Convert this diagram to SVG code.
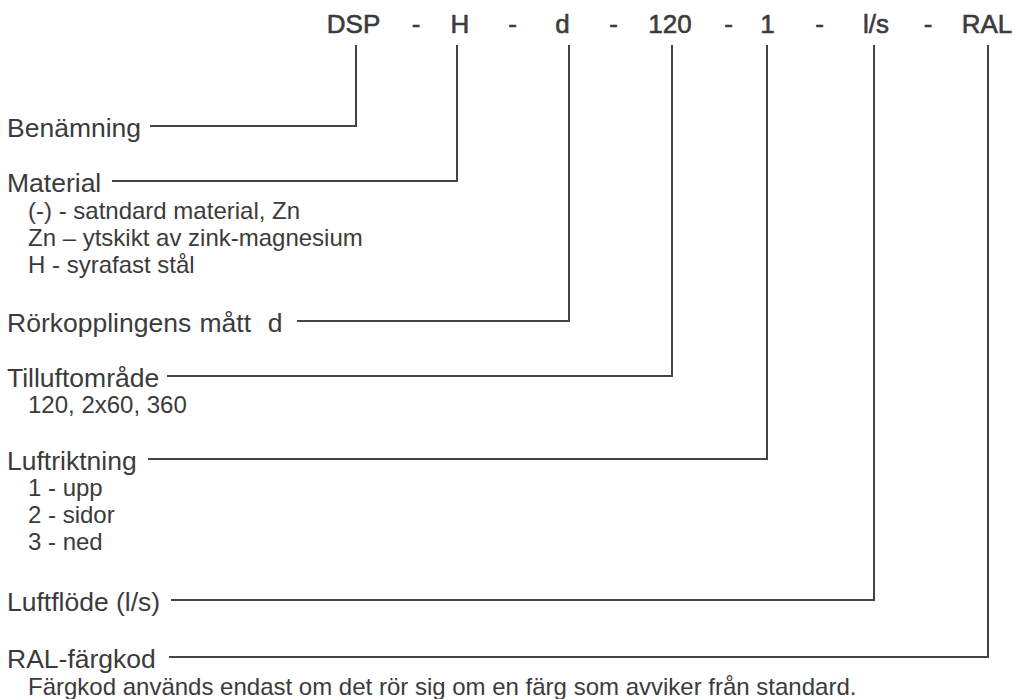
<svg xmlns="http://www.w3.org/2000/svg" width="1015" height="699" viewBox="0 0 1015 699">
  <style>
    text { font-family: "Liberation Sans", Arial, sans-serif; fill: #3b3b3b; }
    .code { font-size: 26px; text-anchor: middle; stroke: #3b3b3b; stroke-width: 0.6px; }
    .label { font-size: 26.5px; }
    .sub { font-size: 24px; }
    .lead { fill: none; stroke: #444; stroke-width: 2; stroke-linejoin: miter; stroke-linecap: butt; }
  </style>
  <rect width="1015" height="699" fill="#fff"/>

  <!-- type code header -->
  <g id="code">
    <text class="code" x="353.5" y="33">DSP</text>
    <text class="code" x="416" y="33">-</text>
    <text class="code" x="460" y="33">H</text>
    <text class="code" x="512.5" y="33">-</text>
    <text class="code" x="562.5" y="33">d</text>
    <text class="code" x="613.5" y="33">-</text>
    <text class="code" x="670" y="33">120</text>
    <text class="code" x="728.5" y="33">-</text>
    <text class="code" x="767.5" y="33">1</text>
    <text class="code" x="819.5" y="33">-</text>
    <text class="code" x="876" y="33">l/s</text>
    <text class="code" x="928" y="33">-</text>
    <text class="code" x="987" y="33">RAL</text>
  </g>

  <!-- leader lines from each label up to its code segment -->
  <g id="connectors">
    <path class="lead" d="M150 126 H356 V45"/>
    <path class="lead" d="M112 181 H457 V45"/>
    <path class="lead" d="M297 321 H569 V45"/>
    <path class="lead" d="M167 376 H672 V45"/>
    <path class="lead" d="M148 459 H767 V45"/>
    <path class="lead" d="M171 600 H874 V45"/>
    <path class="lead" d="M169 657 H988 V45"/>
  </g>

  <g id="benamning">
    <text class="label" x="7" y="137">Benämning</text>
  </g>

  <g id="material">
    <text class="label" x="7" y="192">Material</text>
    <text class="sub" x="28" y="219">(-) - satndard material, Zn</text>
    <text class="sub" x="28" y="246">Zn – ytskikt av zink-magnesium</text>
    <text class="sub" x="28" y="273">H - syrafast stål</text>
  </g>

  <g id="rorkoppling">
    <text class="label" x="7" y="332" xml:space="preserve" word-spacing="1">Rörkopplingens mått  d</text>
  </g>

  <g id="tilluftomrade">
    <text class="label" x="7" y="387">Tilluftområde</text>
    <text class="sub" x="28" y="413">120, 2x60, 360</text>
  </g>

  <g id="luftriktning">
    <text class="label" x="7" y="470">Luftriktning</text>
    <text class="sub" x="28" y="496">1 - upp</text>
    <text class="sub" x="28" y="523">2 - sidor</text>
    <text class="sub" x="28" y="550">3 - ned</text>
  </g>

  <g id="luftflode">
    <text class="label" x="7" y="611">Luftflöde (l/s)</text>
  </g>

  <g id="ral">
    <text class="label" x="7" y="668">RAL-färgkod</text>
    <text class="sub" x="28" y="695">Färgkod används endast om det rör sig om en färg som avviker från standard.</text>
  </g>
</svg>
